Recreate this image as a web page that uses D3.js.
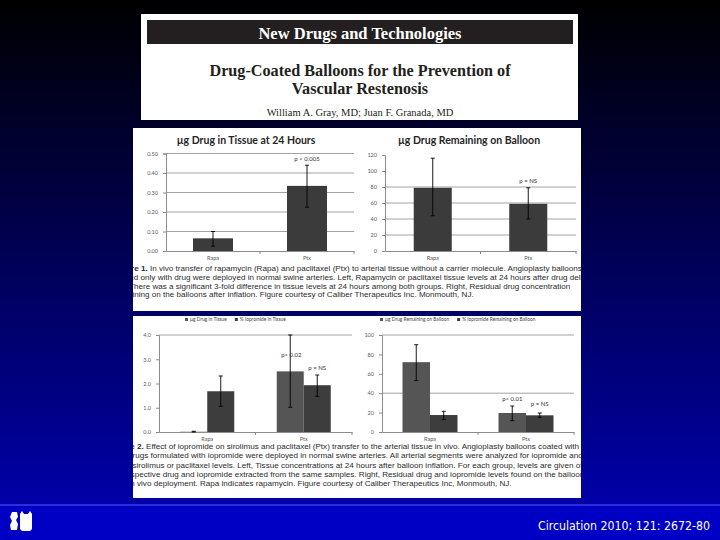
<!DOCTYPE html>
<html><head><meta charset="utf-8">
<script src="https://cdn.jsdelivr.net/npm/d3@7"></script>
<style>html,body{margin:0;padding:0;background:#000;}svg{display:block;}</style>
</head><body>
<script>
// ---------- data ----------
const categories = ["Rapa", "Ptx"];
// Figure 1 left: µg drug in tissue at 24 hours
const tissue24 = [0.065, 0.334];
const tissue24Err = [[0.025, 0.10], [0.225, 0.44]];
const tissue24Ticks = [0, 0.1, 0.2, 0.3, 0.4, 0.5];
// Figure 1 right: µg drug remaining on balloon
const balloon = [79, 59];
const balloonErr = [[44, 116], [40, 79]];
const balloonTicks = [0, 20, 40, 60, 80, 100, 120];
const balloonGrid = [20, 40, 60, 80];
// Figure 2 left: tissue
const fig2Series = ["µg Drug in Tissue", "% Iopromide in Tissue"];
const fig2Drug = [0.01, 2.5];
const fig2DrugErr = [[0, 0.03], [1.02, 4.0]];
const fig2Iop = [1.68, 1.93];
const fig2IopErr = [[1.06, 2.31], [1.47, 2.35]];
const fig2Ticks = [0, 1, 2, 3, 4];
const fig2Grid = [4];
// Figure 2 right: balloon
const fig2bSeries = ["µg Drug Remaining on Balloon", "% Iopromide Remaining on Balloon"];
const fig2bDrug = [72, 19.6];
const fig2bDrugErr = [[53, 90], [11.7, 26.8]];
const fig2bIop = [17.5, 17.2];
const fig2bIopErr = [[12.7, 21.3], [15.2, 19.6]];
const fig2bTicks = [0, 20, 40, 60, 80, 100];
const fig2bGrid = [40, 100];

const caption1 = [
  "Figure 1. In vivo transfer of rapamycin (Rapa) and paclitaxel (Ptx) to arterial tissue without a carrier molecule. Angioplasty balloons",
  "coated only with drug were deployed in normal swine arteries. Left, Rapamycin or paclitaxel tissue levels at 24 hours after drug deliv-",
  "ery. There was a significant 3-fold difference in tissue levels at 24 hours among both groups. Right, Residual drug concentration",
  "remaining on the balloons after inflation. Figure courtesy of Caliber Therapeutics Inc. Monmouth, NJ."
];
const caption2 = [
  "Figure 2. Effect of iopromide on sirolimus and paclitaxel (Ptx) transfer to the arterial tissue in vivo. Angioplasty balloons coated with",
  "both drugs formulated with iopromide were deployed in normal swine arteries. All arterial segments were analyzed for iopromide and",
  "either sirolimus or paclitaxel levels. Left, Tissue concentrations at 24 hours after balloon inflation. For each group, levels are given of",
  "the respective drug and iopromide extracted from the same samples. Right, Residual drug and iopromide levels found on the balloons",
  "after in vivo deployment. Rapa indicates rapamycin. Figure courtesy of Caliber Therapeutics Inc, Monmouth, NJ."
];

// ---------- canvas ----------
const W = 720, H = 540;
const svg = d3.select("body").append("svg").attr("width", W).attr("height", H);
const defs = svg.append("defs");
const grad = defs.append("linearGradient").attr("id", "bg").attr("x1", 0).attr("y1", 0).attr("x2", 0).attr("y2", 1);
grad.append("stop").attr("offset", "0%").attr("stop-color", "#000000");
grad.append("stop").attr("offset", "100%").attr("stop-color", "#0000a8");
svg.append("rect").attr("width", W).attr("height", 505).attr("fill", "url(#bg)");
svg.append("rect").attr("y", 505).attr("width", W).attr("height", 35).attr("fill", "#0000c4");
svg.append("line").attr("x1", 0).attr("x2", W).attr("y1", 505).attr("y2", 505).attr("stroke", "#5a5aff").attr("stroke-width", 1);

// ---------- header ----------
const serif = "'Liberation Serif','Times New Roman',serif";
svg.append("rect").attr("x", 141).attr("y", 14).attr("width", 437).attr("height", 106).attr("fill", "#fff");
svg.append("rect").attr("x", 147).attr("y", 20).attr("width", 426).attr("height", 24).attr("fill", "#231f20");
svg.append("text").attr("x", 360).attr("y", 38.5).attr("text-anchor", "middle").attr("fill", "#fff")
  .attr("font-family", serif).attr("font-weight", "bold").attr("font-size", 16.5).text("New Drugs and Technologies");
svg.append("text").attr("x", 360).attr("y", 76).attr("text-anchor", "middle").attr("fill", "#231f20")
  .attr("font-family", serif).attr("font-weight", "bold").attr("font-size", 16.2).text("Drug-Coated Balloons for the Prevention of");
svg.append("text").attr("x", 360).attr("y", 94).attr("text-anchor", "middle").attr("fill", "#231f20")
  .attr("font-family", serif).attr("font-weight", "bold").attr("font-size", 16.2).text("Vascular Restenosis");
svg.append("text").attr("x", 360).attr("y", 116).attr("text-anchor", "middle").attr("fill", "#231f20")
  .attr("font-family", serif).attr("font-size", 10.5).text("William A. Gray, MD; Juan F. Granada, MD");

// ---------- panels ----------
function panel(id, x, y, w, h) {
  defs.append("clipPath").attr("id", id).append("rect").attr("x", x).attr("y", y).attr("width", w).attr("height", h);
  svg.append("rect").attr("x", x).attr("y", y).attr("width", w).attr("height", h).attr("fill", "#fff");
  return svg.append("g").attr("clip-path", `url(#${id})`);
}
const p1 = panel("p1", 133, 128, 448, 183);
const p2 = panel("p2", 133, 316, 448, 182);

const chartFont = "Lato,'Open Sans',sans-serif";
const capFont = "'Liberation Sans',Arial,sans-serif";

function chart(g, opt) {
  const y = d3.scaleLinear().domain(opt.domain).range([opt.y0, opt.y1]);
  const x = d3.scaleBand().domain(categories).range([opt.x0, opt.x1]);
  // gridlines
  g.selectAll(null).data(opt.grid).enter().append("line")
    .attr("x1", opt.x0).attr("x2", opt.x1).attr("y1", d => y(d)).attr("y2", d => y(d))
    .attr("stroke", "#8c8c8c").attr("stroke-width", 0.8);
  // y axis
  const ya = d3.axisLeft(y).tickValues(opt.ticks).tickFormat(d3.format(opt.fmt)).tickSize(3).tickPadding(5);
  const ag = g.append("g").attr("transform", `translate(${opt.x0},0)`).call(ya);
  ag.select(".domain").attr("stroke", "#8c8c8c");
  ag.selectAll(".tick line").attr("stroke", "#8c8c8c");
  ag.selectAll(".tick text").attr("fill", "#595959").attr("font-family", chartFont).attr("font-size", 5.5);
  // x axis
  const xa = d3.axisBottom(x).tickSize(0).tickPadding(5);
  const xg = g.append("g").attr("transform", `translate(0,${opt.y0})`).call(xa);
  xg.select(".domain").attr("stroke", "#8c8c8c");
  xg.selectAll(".tick text").attr("fill", "#595959").attr("font-family", chartFont).attr("font-size", 5.5);
  g.selectAll(null).data([opt.x0 + x.step(), opt.x1]).enter().append("line")
    .attr("x1", d => d).attr("x2", d => d).attr("y1", opt.y0).attr("y2", opt.y0 + 3).attr("stroke", "#8c8c8c");
  // bars
  const nS = opt.series.length;
  const gw = opt.groupW, bw = gw / nS;
  opt.series.forEach((s, si) => {
    categories.forEach((c, ci) => {
      const cx = x(c) + x.bandwidth() / 2 - gw / 2 + si * bw;
      g.append("rect").attr("x", cx).attr("y", y(s.values[ci])).attr("width", bw)
        .attr("height", y(0) - y(s.values[ci])).attr("fill", s.color);
      const e = s.err[ci], mx = cx + bw / 2;
      g.append("line").attr("x1", mx).attr("x2", mx).attr("y1", y(e[0])).attr("y2", y(e[1])).attr("stroke", "#000").attr("stroke-width", 0.9);
      [e[0], e[1]].forEach(v => g.append("line").attr("x1", mx - 2).attr("x2", mx + 2).attr("y1", y(v)).attr("y2", y(v)).attr("stroke", "#000").attr("stroke-width", 0.9));
    });
  });
  (opt.notes || []).forEach(n => {
    const s = opt.series[n.s];
    const cx = x(categories[n.c]) + x.bandwidth() / 2 - gw / 2 + n.s * bw + bw / 2;
    g.append("text").attr("x", cx + (n.dx || 0)).attr("y", y(s.err[n.c][1]) - n.dy).attr("text-anchor", "middle")
      .attr("fill", "#333").attr("font-family", chartFont).attr("font-size", n.size || 6).text(n.t);
  });
  if (opt.title) {
    g.append("text").attr("x", opt.titleX).attr("y", opt.titleY).attr("text-anchor", "middle")
      .attr("fill", "#262626").attr("font-family", chartFont).attr("font-weight", "bold").attr("font-size", 10.5).text(opt.title);
  }
  if (opt.legend) {
    const lg = g.append("g");
    let cx = opt.legendX;
    opt.legend.forEach((l, i) => {
      lg.append("rect").attr("x", cx).attr("y", opt.legendY - 3).attr("width", 3).attr("height", 3).attr("fill", opt.series[i].color);
      const t = lg.append("text").attr("x", cx + 5).attr("y", opt.legendY).attr("fill", "#404040")
        .attr("font-family", chartFont).attr("font-size", 4.8).text(l);
      cx += 5 + t.node().getComputedTextLength() + 8;
    });
  }
}

chart(p1, {
  domain: [0, 0.5], y0: 251, y1: 153.5, x0: 166, x1: 354, ticks: tissue24Ticks, fmt: ".2f",
  grid: tissue24Ticks.filter(d => d > 0), groupW: 40,
  series: [{ values: tissue24, err: tissue24Err, color: "#3b3b3b" }],
  notes: [{ s: 0, c: 1, t: "p < 0.005", dy: 4 }],
  title: "µg Drug in Tissue at 24 Hours", titleX: 246, titleY: 144
});
chart(p1, {
  domain: [0, 120], y0: 251, y1: 155, x0: 385, x1: 576, ticks: balloonTicks, fmt: "d",
  grid: balloonGrid, groupW: 38,
  series: [{ values: balloon, err: balloonErr, color: "#3b3b3b" }],
  notes: [{ s: 0, c: 1, t: "p = NS", dy: 5 }],
  title: "µg Drug Remaining on Balloon", titleX: 469, titleY: 144
});
chart(p2, {
  domain: [0, 4], y0: 432, y1: 335, x0: 159, x1: 352, ticks: fig2Ticks, fmt: ".1f",
  grid: fig2Grid, groupW: 54,
  series: [{ values: fig2Drug, err: fig2DrugErr, color: "#555555" }, { values: fig2Iop, err: fig2IopErr, color: "#3d3d3d" }],
  notes: [{ s: 0, c: 1, t: "p< 0.02", dy: -21.5, dx: 1 }, { s: 1, c: 1, t: "p = NS", dy: 5 }],
  legend: fig2Series, legendX: 185, legendY: 321
});
chart(p2, {
  domain: [0, 100], y0: 432, y1: 335, x0: 382, x1: 574, ticks: fig2bTicks, fmt: "d",
  grid: fig2bGrid, groupW: 55,
  series: [{ values: fig2bDrug, err: fig2bDrugErr, color: "#555555" }, { values: fig2bIop, err: fig2bIopErr, color: "#3d3d3d" }],
  notes: [{ s: 0, c: 1, t: "p< 0.01", dy: 5 }, { s: 1, c: 1, t: "p = NS", dy: 7 }],
  legend: fig2bSeries, legendX: 380, legendY: 321
});

// captions
function caption(g, lines, x, y0, dy) {
  lines.forEach((l, i) => {
    const t = g.append("text").attr("x", x).attr("y", y0 + i * dy).attr("fill", "#2b2b2b")
      .attr("font-family", capFont).attr("font-size", 8.1);
    const m = l.match(/^(Figure \d\.)(.*)$/);
    if (m) { t.append("tspan").attr("font-weight", "bold").text(m[1]); t.append("tspan").text(m[2]); }
    else t.text(l);
  });
}
caption(p1, caption1, 114, 271, 8.8);
caption(p2, caption2, 110, 449, 9.3);

// footer
const logoPath = d3.path();
logoPath.moveTo(12, 512); logoPath.lineTo(17, 512); logoPath.lineTo(18, 517); logoPath.lineTo(16, 520); logoPath.lineTo(18, 524);
logoPath.lineTo(17, 530); logoPath.lineTo(11, 530); logoPath.lineTo(10, 525); logoPath.lineTo(12, 521); logoPath.lineTo(10, 517); logoPath.closePath();
logoPath.moveTo(20, 514); logoPath.lineTo(22, 511); logoPath.lineTo(24, 514); logoPath.lineTo(28, 514); logoPath.lineTo(30, 511); logoPath.lineTo(32, 514);
logoPath.lineTo(32, 529); logoPath.lineTo(30, 531); logoPath.lineTo(22, 531); logoPath.lineTo(20, 529); logoPath.closePath();
svg.append("path").attr("d", logoPath.toString()).attr("fill", "#fff");
svg.append("text").attr("x", 710).attr("y", 530).attr("text-anchor", "end").attr("fill", "#fff")
  .attr("font-family", "'Liberation Sans Narrow','DejaVu Sans Condensed',sans-serif").attr("font-size", 12.5)
  .attr("textLength", 172).attr("lengthAdjust", "spacingAndGlyphs").text("Circulation 2010; 121: 2672-80");
</script>
</body></html>
